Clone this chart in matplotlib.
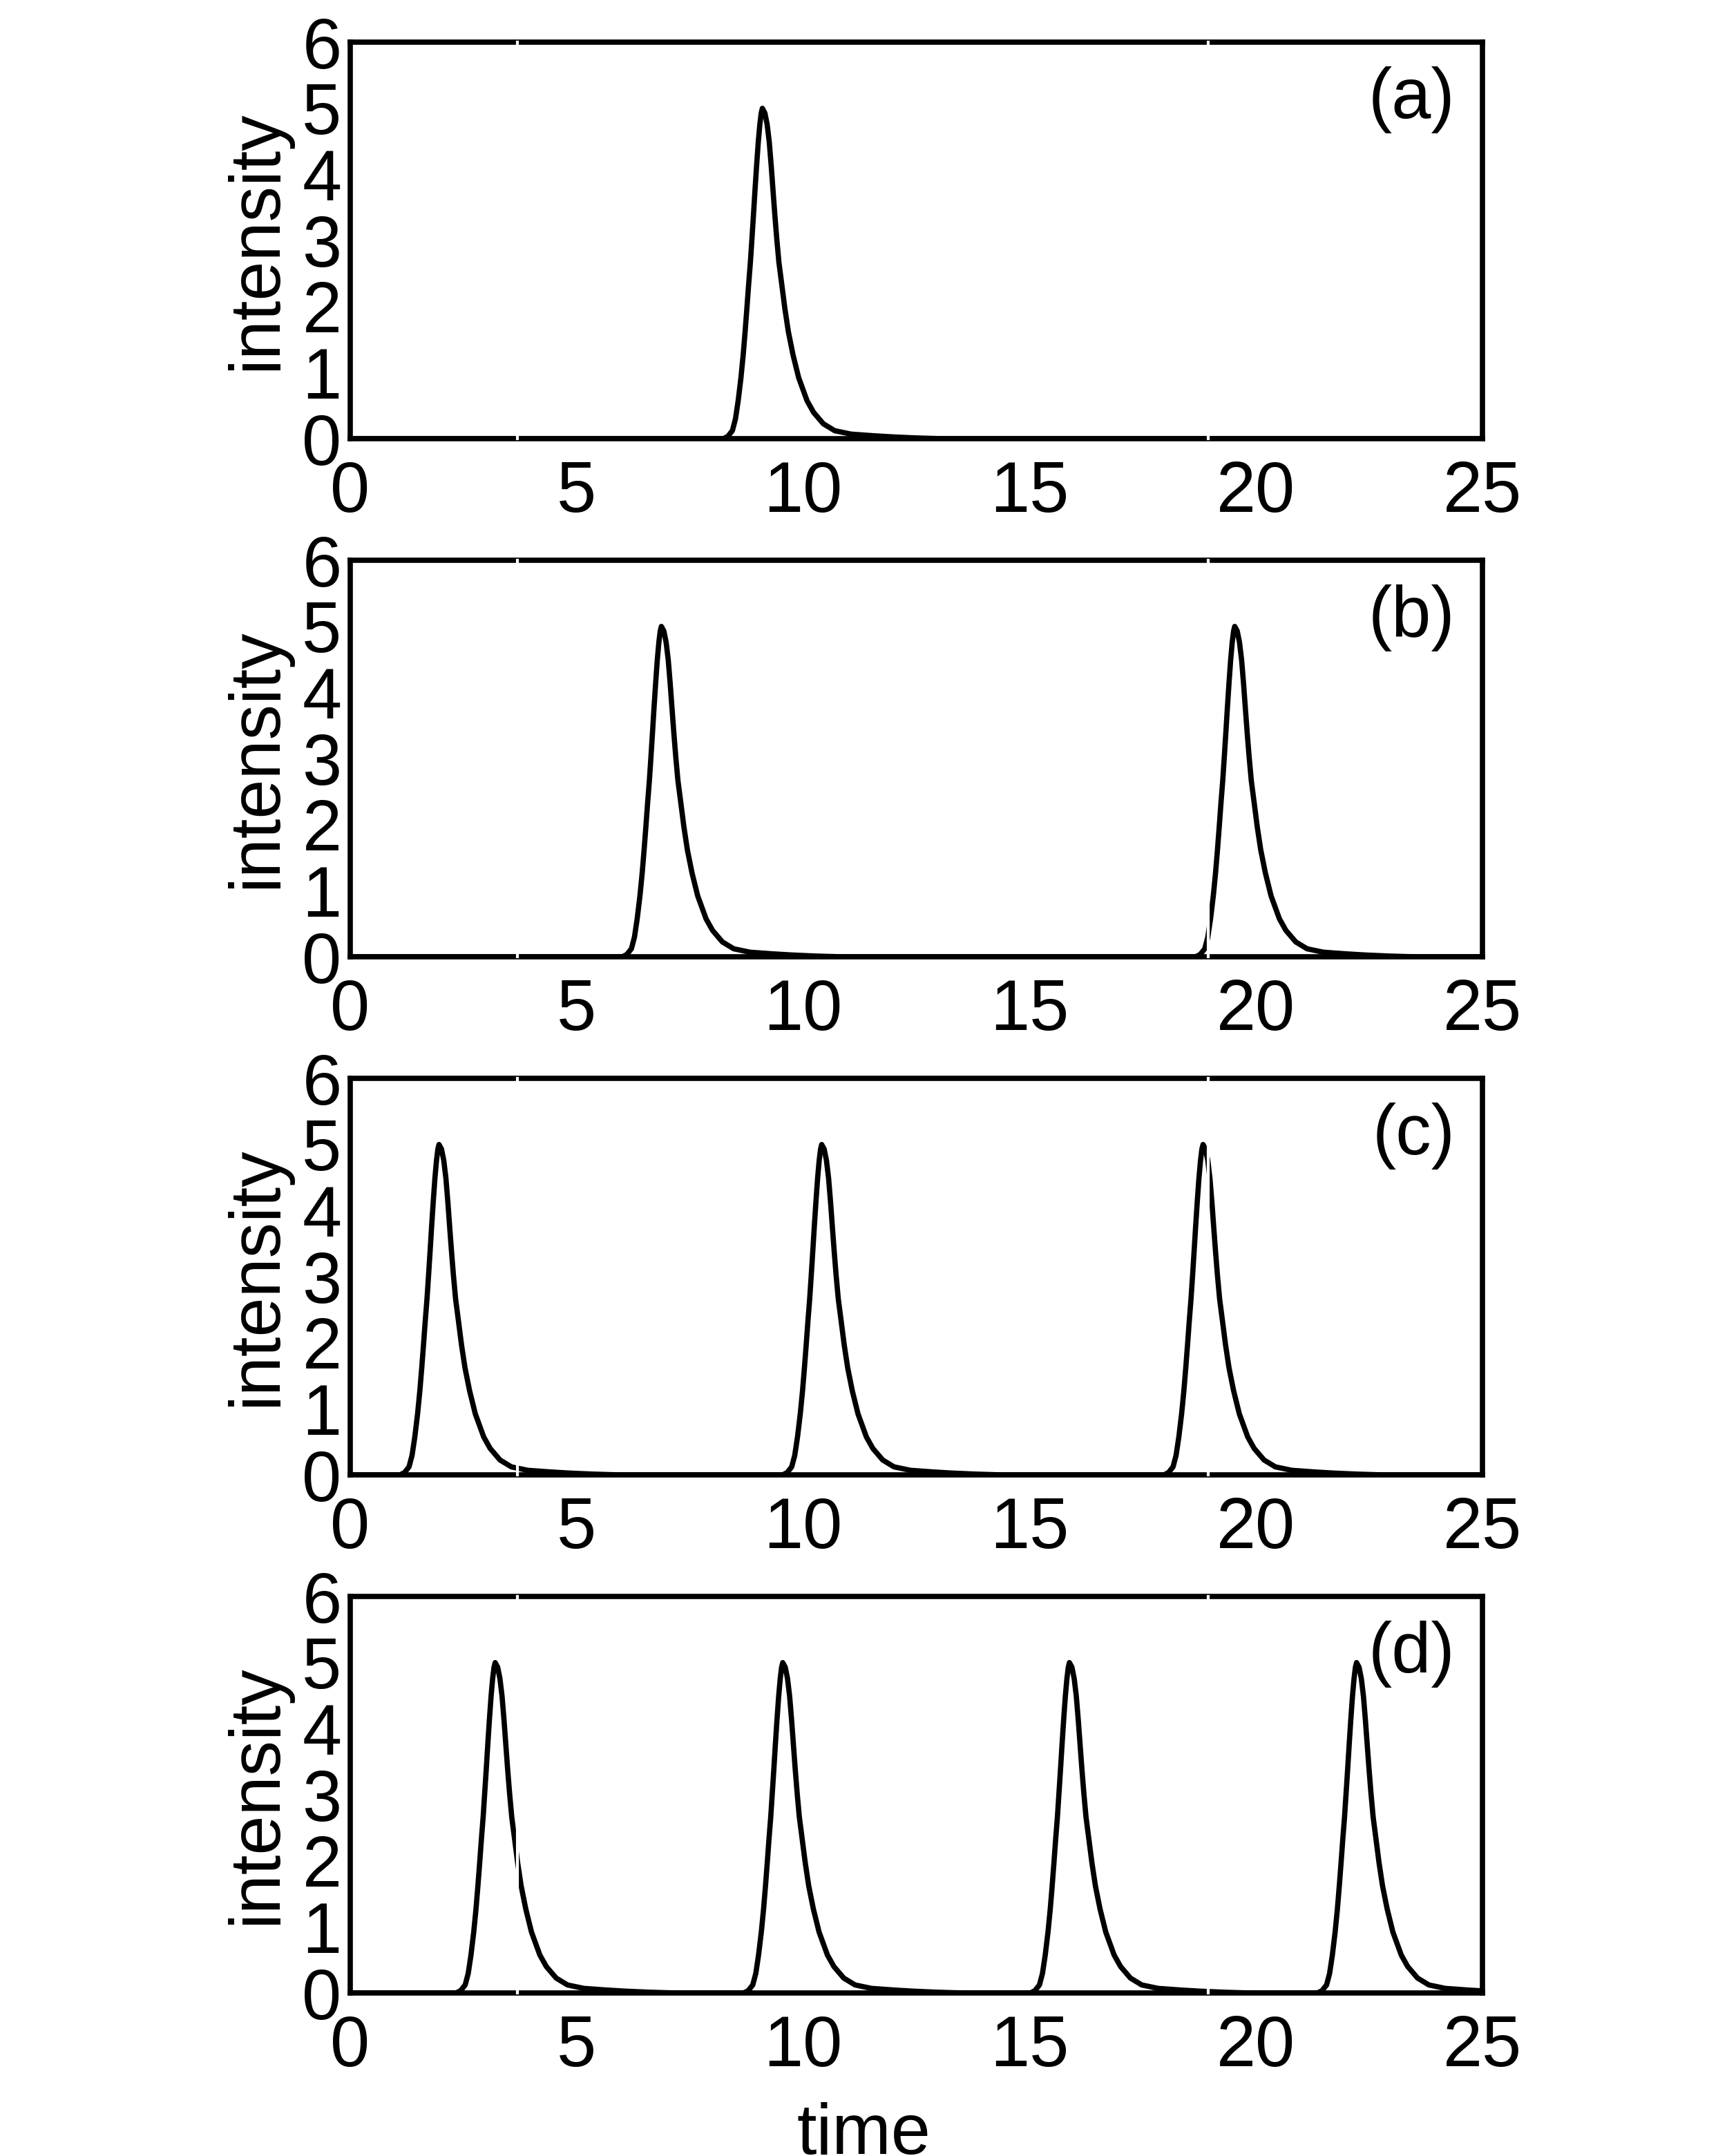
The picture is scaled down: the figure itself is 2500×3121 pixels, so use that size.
import numpy as np
import matplotlib.pyplot as plt

plt.rcParams['font.family'] = ['Liberation Sans', 'DejaVu Sans']

# pulse shape: time offset from the peak, intensity
pulse_dt = [-0.865, -0.763, -0.662, -0.595, -0.534, -0.473, -0.423, -0.381,
            -0.342, -0.305, -0.265, -0.230, -0.196, -0.163, -0.128, -0.090,
            -0.055, -0.025, 0.0,
            0.055, 0.105, 0.152, 0.196, 0.235, 0.275, 0.318, 0.366, 0.432,
            0.497, 0.574, 0.676, 0.802, 0.987, 1.129, 1.347, 1.597, 1.957,
            2.460, 2.872, 3.4, 4.0]
pulse_y = [0.0, 0.035, 0.122, 0.296, 0.575, 0.923, 1.272, 1.620,
           1.969, 2.317, 2.665, 3.026, 3.392, 3.759, 4.126, 4.492,
           4.76, 4.93, 5.0,
           4.93, 4.76, 4.492, 4.126, 3.759, 3.392, 3.026, 2.665, 2.317,
           1.969, 1.620, 1.272, 0.923, 0.575, 0.401, 0.226, 0.122, 0.070,
           0.045, 0.028, 0.012, 0.0]

# peak times in each panel
peaks_a = [9.10]
peaks_b = [6.87, 19.53]
peaks_c = [1.96, 10.41, 18.83]
peaks_d = [3.20, 9.55, 15.88, 22.22]
panels = [peaks_a, peaks_b, peaks_c, peaks_d]
labels = ['(a)', '(b)', '(c)', '(d)']

xticks = [0, 5, 10, 15, 20, 25]
yticks = [0, 1, 2, 3, 4, 5, 6]
gap_x = [3.69, 18.95]   # thin white cuts seen in the original

fs = 74
fig = plt.figure(figsize=(25, 31.21), dpi=100)
bottoms = [0.7965, 0.5562, 0.3159, 0.0756]

for peaks, lab, b in zip(panels, labels, bottoms):
    ax = fig.add_axes([0.2028, b, 0.6556, 0.1839])
    t = [0.0]
    y = [0.0]
    for p in peaks:
        t += [p + d for d in pulse_dt]
        y += pulse_y
    t.append(25.0)
    y.append(0.0)
    ax.plot(t, y, color='black', lw=5.5, solid_joinstyle='round', zorder=3)
    ax.set_xlim(0, 25)
    ax.set_ylim(0, 6)
    ax.set_xticks(xticks)
    ax.set_yticks(yticks)
    ax.tick_params(axis='both', length=0, labelsize=fs)
    ax.tick_params(axis='x', pad=22)
    ax.tick_params(axis='y', pad=9)
    for s in ax.spines.values():
        s.set_linewidth(5.5)
        s.set_color('black')
    ax.set_ylabel('intensity', fontsize=fs)
    ax.yaxis.set_label_coords(-0.0525, 0.5)
    ax.text(0.976, 0.855, lab, transform=ax.transAxes, ha='right', va='center', fontsize=fs)
    for g in gap_x:
        ax.axvline(g, color='white', lw=3, zorder=6, clip_on=False)

fig.text(0.5, 0.001, 'time', ha='center', va='baseline', fontsize=fs)

fig.savefig('out.png', dpi=100)
